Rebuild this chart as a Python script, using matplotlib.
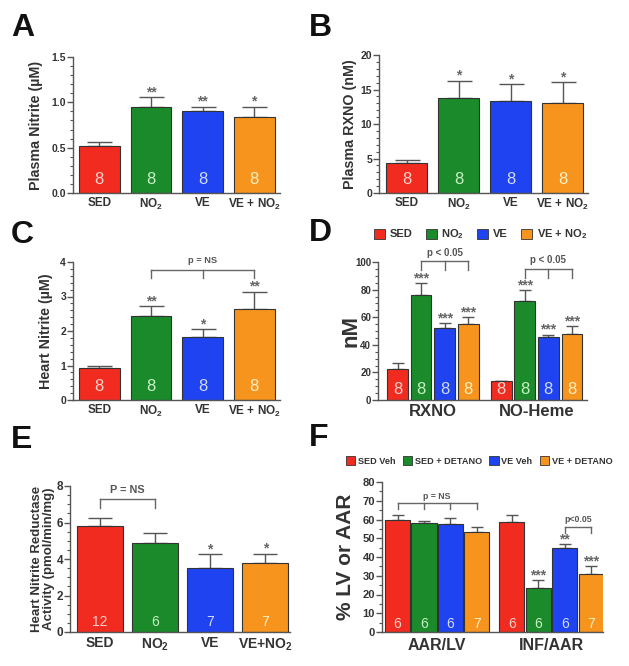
import matplotlib
matplotlib.use('Agg')
import matplotlib.pyplot as plt
import numpy as np
from matplotlib.patches import Patch
from matplotlib.ticker import MultipleLocator
from matplotlib.transforms import blended_transform_factory as btf

plt.rcParams['font.family'] = ['Liberation Sans', 'DejaVu Sans']
plt.rcParams['font.weight'] = 'bold'
plt.rcParams['axes.labelweight'] = 'bold'
plt.rcParams['mathtext.fontset'] = 'custom'
plt.rcParams['mathtext.rm'] = 'Liberation Sans:bold'
plt.rcParams['mathtext.bf'] = 'Liberation Sans:bold'
plt.rcParams['mathtext.default'] = 'bf'

COLORS = ['#f12b1f', '#1a8a2a', '#1f43f0', '#f7941e']
TINTS = ['#ffd3cc', '#c9f2c4', '#cfdcff', '#fff1c4']
TXT = '#333333'
GRAY = '#555555'

# ---------------- data ----------------
labels4 = ['SED', 'NO$_2$', 'VE', 'VE + NO$_2$']

A_mean = [0.52, 0.95, 0.90, 0.84]
A_err = [0.04, 0.11, 0.05, 0.11]
A_n = [8, 8, 8, 8]
A_stars = ['', '**', '**', '*']

B_mean = [4.3, 13.7, 13.3, 13.1]
B_err = [0.45, 2.6, 2.5, 3.0]
B_n = [8, 8, 8, 8]
B_stars = ['', '*', '*', '*']

C_mean = [0.93, 2.44, 1.83, 2.65]
C_err = [0.07, 0.28, 0.22, 0.49]
C_n = [8, 8, 8, 8]
C_stars = ['', '**', '*', '**']

D_groups = ['RXNO', 'NO-Heme']
D_legend = ['SED', 'NO$_2$', 'VE', 'VE + NO$_2$']
D_rxno = [22.6, 76.0, 52.0, 55.3]
D_rxno_err = [4.1, 8.5, 3.6, 4.9]
D_heme = [13.6, 71.6, 45.4, 47.8]
D_heme_err = [0.5, 7.8, 1.9, 5.6]
D_n = [8, 8, 8, 8]
D_stars = ['', '***', '***', '***']

E_labels = ['SED', 'NO$_2$', 'VE', 'VE+NO$_2$']
E_mean = [5.8, 4.85, 3.49, 3.8]
E_err = [0.47, 0.55, 0.76, 0.49]
E_n = [12, 6, 7, 7]
E_stars = ['', '', '*', '*']

F_groups = ['AAR/LV', 'INF/AAR']
F_legend = ['SED Veh', 'SED + DETANO', 'VE Veh', 'VE + DETANO']
F_aar = [60.0, 58.3, 57.4, 53.5]
F_aar_err = [2.2, 0.7, 3.3, 2.6]
F_inf = [58.8, 23.6, 44.6, 31.1]
F_inf_err = [3.7, 4.1, 2.3, 3.9]
F_n = [6, 6, 6, 7]
F_aar_stars = ['', '', '', '']
F_inf_stars = ['', '***', '**', '***']

# ---------------- helpers ----------------
W, H = 629, 666
fig = plt.figure(figsize=(W / 100, H / 100), dpi=100)


def mkax(l, t, r, b):
    return fig.add_axes([l / W, 1 - b / H, (r - l) / W, (b - t) / H])


def style(ax, ymax, major, minor, fs):
    for s in ['top', 'right']:
        ax.spines[s].set_visible(False)
    for s in ['left', 'bottom']:
        ax.spines[s].set_color(GRAY)
        ax.spines[s].set_linewidth(1.0)
    ax.set_ylim(0, ymax)
    ax.yaxis.set_major_locator(MultipleLocator(major))
    ax.yaxis.set_minor_locator(MultipleLocator(minor))
    ax.tick_params(axis='y', which='major', length=4, width=1, color=GRAY,
                   labelsize=fs, pad=1, labelcolor=TXT)
    ax.tick_params(axis='y', which='minor', length=2, width=0.8, color=GRAY)
    ax.tick_params(axis='x', length=0, labelcolor=TXT)


def bars(ax, xs, mean, err, n, stars, width, capsize, nfs, nfrac, sfs):
    ax.bar(xs, mean, width, color=COLORS, edgecolor='#333333', linewidth=0.8, zorder=2)
    ax.errorbar(xs, mean, yerr=[np.zeros(len(err)), err], fmt='none', ecolor=GRAY,
                elinewidth=1.0, capsize=capsize, capthick=1.0, zorder=1)
    tr = btf(ax.transData, ax.transAxes)
    for x, m, e, k, s, tc in zip(xs, mean, err, n, stars, TINTS):
        ax.text(x, nfrac, str(k), transform=tr, ha='center', va='center',
                color=tc, fontsize=nfs, fontweight='normal', zorder=3)
        if s:
            ax.annotate(s, (x, m + e), xytext=(0, -1.5), textcoords='offset points',
                        ha='center', va='bottom', fontsize=sfs, color='#666666',
                        annotation_clip=False)


def bracket(ax, xs, y, drop, text, tdy, fs):
    ax.plot([xs[0], xs[-1]], [y, y], color='#666666', lw=1, clip_on=False)
    for x in xs:
        ax.plot([x, x], [y, y - drop], color='#666666', lw=1, clip_on=False)
    ax.text(np.mean([xs[0], xs[-1]]), y + tdy, text, ha='center', va='bottom',
            fontsize=fs, color=GRAY, clip_on=False)


x4 = np.arange(4)

# ---------------- A ----------------
axA = mkax(73, 57, 280, 193)
style(axA, 1.5, 0.5, 0.1, 7.5)
bars(axA, x4, A_mean, A_err, A_n, A_stars, 0.79, 9, 12, 0.1, 10)
axA.set_xlim(-0.51, 3.5)
axA.set_xticks(x4, labels4, fontsize=8.5)
axA.tick_params(axis='x', pad=3)
axA.set_ylabel('Plasma Nitrite (µM)', fontsize=10.3, color=TXT)
axA.yaxis.set_label_coords(-0.145, 0.5)

# ---------------- B ----------------
axB = mkax(379, 55, 588, 193)
style(axB, 20, 5, 1, 7.5)
bars(axB, x4, B_mean, B_err, B_n, B_stars, 0.78, 9, 12, 0.1, 10)
axB.set_xlim(-0.53, 3.49)
axB.set_xticks(x4, labels4, fontsize=8.5)
axB.tick_params(axis='x', pad=3)
axB.set_ylabel('Plasma RXNO (nM)', fontsize=10.3, color=TXT)
axB.yaxis.set_label_coords(-0.105, 0.5)

# ---------------- C ----------------
axC = mkax(73, 262, 280, 400)
style(axC, 4, 1, 0.2, 7.5)
bars(axC, x4, C_mean, C_err, C_n, C_stars, 0.79, 9, 12, 0.1, 10)
axC.set_xlim(-0.51, 3.5)
axC.set_xticks(x4, labels4, fontsize=8.5)
axC.tick_params(axis='x', pad=3)
axC.set_ylabel('Heart Nitrite (µM)', fontsize=10.3, color=TXT)
axC.yaxis.set_label_coords(-0.097, 0.5)
bracket(axC, [1, 2, 3], 3.78, 0.25, 'p = NS', 0.12, 6.7)

# ---------------- D ----------------
axD = mkax(378, 262, 587, 400)
style(axD, 100, 20, 5, 7)
xr = x4
xh = x4 + 4.4
bars(axD, xr, D_rxno, D_rxno_err, D_n, D_stars, 0.88, 4, 12, 0.075, 10)
bars(axD, xh, D_heme, D_heme_err, D_n, D_stars, 0.88, 4, 12, 0.075, 10)
axD.set_xlim(-0.83, 8.04)
axD.set_xticks([xr.mean(), xh.mean()], D_groups, fontsize=12)
axD.tick_params(axis='x', pad=3)
axD.set_ylabel('nM', fontsize=16, color=TXT)
axD.yaxis.set_label_coords(-0.078, 0.5)
bracket(axD, [xr[1], xr[2], xr[3]], 100.7, 6.5, 'p < 0.05', 2.5, 7)
bracket(axD, [xh[1], xh[2], xh[3]], 95, 6.5, 'p < 0.05', 2.5, 7)
hD = [Patch(facecolor=c, edgecolor='#333333', linewidth=0.6, label=l) for c, l in zip(COLORS, D_legend)]
axD.legend(handles=hD, ncol=4, loc='center', bbox_to_anchor=(0.49, 1.2), frameon=False,
           fontsize=8, handlelength=1.0, handleheight=1.0, columnspacing=1.2,
           handletextpad=0.4, labelcolor=TXT, borderpad=0)

# ---------------- E ----------------
axE = mkax(70, 486, 290, 632)
style(axE, 8, 2, 0.5, 8.5)
bars(axE, x4, E_mean, E_err, E_n, E_stars, 0.83, 8.5, 10, 0.07, 10)
axE.set_xlim(-0.545, 3.45)
axE.set_xticks(x4, E_labels, fontsize=10)
axE.tick_params(axis='x', pad=3)
axE.set_ylabel('Heart Nitrite Reductase\nActivity (pmol/min/mg)', fontsize=9.5,
               color=TXT, linespacing=1.0)
axE.yaxis.set_label_coords(-0.068, 0.5)
bracket(axE, [0, 1], 7.31, 0.49, 'P = NS', 0.22, 7.8)

# ---------------- F ----------------
axF = mkax(382, 482, 603, 632)
style(axF, 80, 10, 5, 8)
xa = x4
xi = x4 + 4.33
bars(axF, xa, F_aar, F_aar_err, F_n, F_aar_stars, 0.95, 4.3, 10, 0.05, 10)
bars(axF, xi, F_inf, F_inf_err, F_n, F_inf_stars, 0.95, 4.3, 10, 0.05, 10)
axF.set_xlim(-0.59, 7.78)
axF.set_xticks([xa.mean(), xi.mean()], F_groups, fontsize=11.5)
axF.tick_params(axis='x', pad=4)
axF.set_ylabel('% LV or AAR', fontsize=15, color=TXT)
axF.yaxis.set_label_coords(-0.122, 0.5)
bracket(axF, list(xa), 68.6, 3.2, 'p = NS', 1.5, 6.3)
bracket(axF, [xi[2], xi[3]], 56.1, 3.2, 'p<0.05', 1.5, 6.3)
hF = [Patch(facecolor=c, edgecolor='#333333', linewidth=0.6, label=l) for c, l in zip(COLORS, F_legend)]
axF.legend(handles=hF, ncol=4, loc='center', bbox_to_anchor=(0.44, 1.14), frameon=False,
           fontsize=6.6, handlelength=1.0, handleheight=1.0, columnspacing=0.8,
           handletextpad=0.3, labelcolor=TXT, borderpad=0)

# ---------------- panel letters ----------------
for letter, (px, py) in zip('ABCDEF', [(11, 36), (309, 36), (11, 243), (309, 241), (11, 448), (309, 446)]):
    fig.text(px / W, 1 - py / H, letter, fontsize=23, fontweight='bold', color='#111111',
             ha='left', va='baseline')

fig.savefig('out.png', dpi=100)
